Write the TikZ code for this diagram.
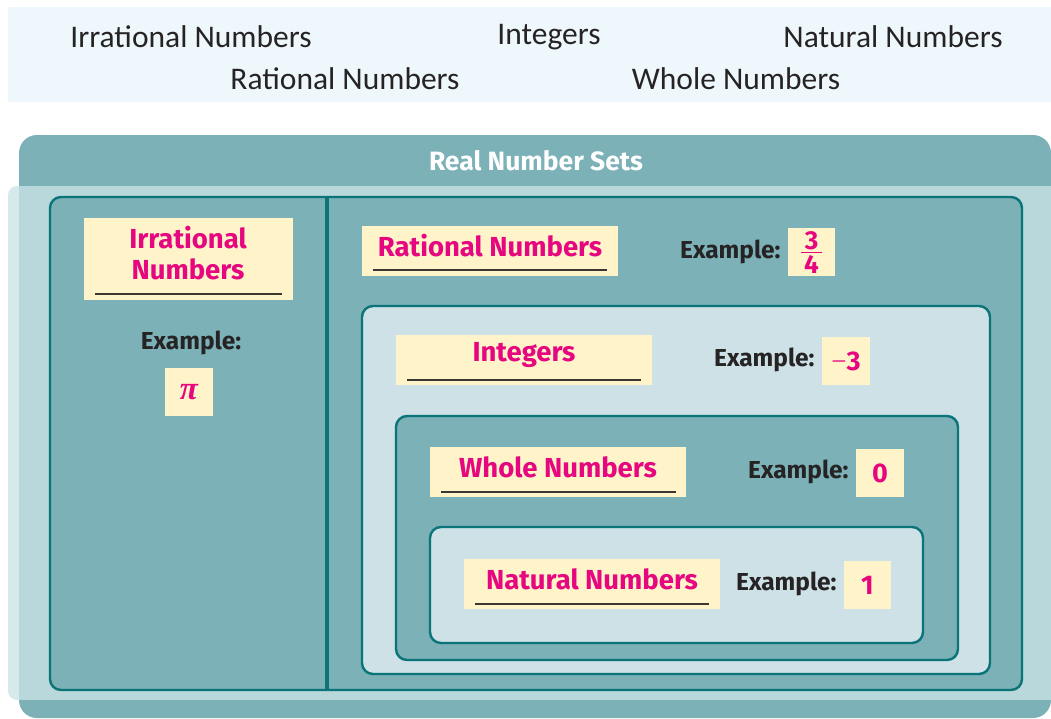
\documentclass[tikz,border=0pt]{standalone}
\usepackage{fontspec}
\setmainfont{Fira Sans}
\newfontfamily\handfont{Carlito}
\newfontfamily\greekfont{Liberation Serif}
\definecolor{bannerc}{HTML}{EEF7FC}
\definecolor{tealfill}{HTML}{7BB1B7}
\definecolor{tealdark}{HTML}{0B7479}
\definecolor{panelc}{HTML}{B8D8DB}
\definecolor{panelpale}{HTML}{D6E9EB}
\definecolor{lightfill}{HTML}{CDE1E6}
\definecolor{cream}{HTML}{FFF3C9}
\definecolor{pinkc}{HTML}{E6067F}
\definecolor{inkc}{HTML}{262324}
\definecolor{rulec}{HTML}{3A3632}
\tikzset{
  hand/.style={text=inkc, font=\handfont\fontsize{31.5}{34}\selectfont, inner sep=0},
  setbox/.style={draw=tealdark, line width=2.4pt, rounded corners=11},
  labelbox/.style={fill=cream, inner sep=0},
  tag/.style={text=pinkc, font=\fontsize{27.5}{31}\selectfont\bfseries, inner sep=0, align=center},
  ex/.style={text=inkc, font=\fontsize{24.5}{28}\selectfont\bfseries, inner sep=0},
  valbox/.style={fill=cream, minimum width=48, minimum height=48, inner sep=0,
    text=pinkc, font=\fontsize{27}{30}\selectfont\bfseries},
  digit/.style={text=pinkc, font=\fontsize{26}{28}\selectfont\bfseries, inner sep=0},
  underrule/.style={draw=rulec, line width=1.4pt}
}
\begin{document}
\begin{tikzpicture}[x=1pt,y=-1pt]
\useasboundingbox (0,0) rectangle (1051,718);

% word bank
\fill[bannerc] (8,7) rectangle (1051,102);
\node[hand] (wIrr) at (191,37) {Irrational Numbers};
\node[hand] (wInt) at (549,37) {Integers};
\node[hand] (wNat) at (893,37) {Natural Numbers};
\node[hand] (wRat) at (345,79) {Rational Numbers};
\node[hand] (wWho) at (736,79) {Whole Numbers};

% frame of the chart
\fill[panelpale, rounded corners=9] (8,186) rectangle (1060,700);
\fill[tealfill, rounded corners=18] (19,135) rectangle (1051,718);
\fill[panelc] (19,186) rectangle (1051,700);
\node[text=white, font=\fontsize{26.5}{30}\selectfont\bfseries, inner sep=0] (title) at (536,161) {Real Number Sets};

% nested sets
\draw[setbox, fill=tealfill] (50,197) rectangle (1022,690);
\draw[tealdark, line width=3.4pt] (327,197) -- (327,690);
\draw[setbox, fill=lightfill] (362,306) rectangle (990,674);
\draw[setbox, fill=tealfill] (396,416) rectangle (958,660);
\draw[setbox, fill=lightfill] (430,527) rectangle (923,643);

% irrational numbers
\node[labelbox, minimum width=209, minimum height=82] (irrBox) at (188.5,259) {};
\node[tag] (irr) at (188,253) {Irrational\\Numbers};
\draw[underrule] (95,294) -- (282,294);
\node[ex] (irrEx) at (191,343) {Example:};
\node[valbox] (irrVal) at (189,392) {\greekfont\fontsize{33}{34}\selectfont\bfseries\itshape π};

% rational numbers
\node[labelbox, minimum width=256, minimum height=50] (ratBox) at (489.5,251) {};
\node[tag] (rat) at (490,246) {Rational Numbers};
\draw[underrule] (373,270) -- (607,270);
\node[ex, anchor=west] (ratEx) at (680,252) {Example:};
\node[valbox, minimum width=47] (ratVal) at (811.5,252) {};
\node[digit] (num) at (811.5,240.5) {3};
\node[digit] (den) at (811.5,264.5) {4};
\draw[pinkc, line width=1.3pt] (801,252.5) -- (822,252.5);

% integers
\node[labelbox, minimum width=256, minimum height=50] (intBox) at (524,360) {};
\node[tag] (int) at (524,355) {Integers};
\draw[underrule] (407,380) -- (641,380);
\node[ex, anchor=west] (intEx) at (714,360) {Example:};
\node[valbox] (intVal) at (846,361) {{\greekfont\mdseries −}3};

% whole numbers
\node[labelbox, minimum width=256, minimum height=50] (wholeBox) at (558,472) {};
\node[tag] (whole) at (558,467) {Whole Numbers};
\draw[underrule] (441,492) -- (676,492);
\node[ex, anchor=west] (wholeEx) at (748,472) {Example:};
\node[valbox] (wholeVal) at (880,473) {0};

% natural numbers
\node[labelbox, minimum width=256, minimum height=50] (natBox) at (592,584) {};
\node[tag] (nat) at (592,579) {Natural Numbers};
\draw[underrule] (475,604) -- (709,604);
\node[ex, anchor=west] (natEx) at (736,584) {Example:};
\node[valbox, minimum width=47] (natVal) at (867.5,585) {1};
\end{tikzpicture}
\end{document}
